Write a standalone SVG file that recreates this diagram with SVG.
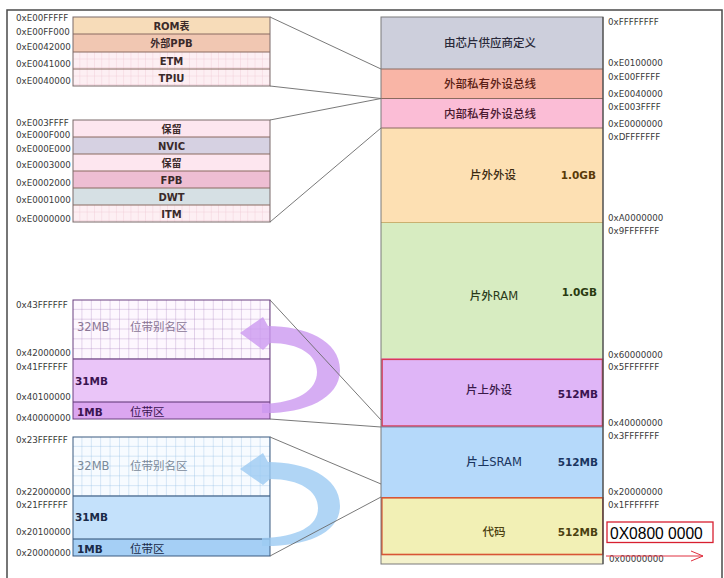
<svg xmlns="http://www.w3.org/2000/svg" width="724" height="578" viewBox="0 0 724 578">
<defs>
<style>
.addr{font-family:"DejaVu Sans","Liberation Sans",sans-serif;font-size:8.7px;fill:#3a3a3a}
.cn{font-family:"DejaVu Sans","Noto Sans CJK SC",sans-serif;font-size:11.5px;font-weight:500;text-anchor:middle}
.sm{font-family:"DejaVu Sans","Noto Sans CJK SC",sans-serif;font-size:10px;font-weight:bold;text-anchor:middle;fill:#3a2a2a}
.sz{font-family:"DejaVu Sans",sans-serif;font-size:10.5px;font-weight:bold;text-anchor:end}
.bb{font-family:"DejaVu Sans","Noto Sans CJK SC",sans-serif;font-size:11.5px}
.bbb{font-family:"DejaVu Sans","Noto Sans CJK SC",sans-serif;font-size:10.5px;font-weight:bold}
.sep{stroke:#8a6a60;stroke-width:1}
.conn{stroke:#6a6a6a;stroke-width:0.9;fill:none}
</style>
<pattern id="pinkgrid" width="7.3" height="8.5" patternUnits="userSpaceOnUse">
<rect width="7.3" height="8.5" fill="#fdeff3"/>
<path d="M7.3 0V8.5M0 8.5H7.3" stroke="#efc6d3" stroke-width="0.8" fill="none"/>
</pattern>
<pattern id="purplegrid" x="73" y="300" width="9.38" height="9.83" patternUnits="userSpaceOnUse">
<rect width="9.38" height="9.83" fill="#fdf7fe"/>
<path d="M9.38 0V9.83M0 9.83H9.38" stroke="#a987c2" stroke-width="0.7" fill="none"/>
</pattern>
<pattern id="bluegrid" x="73" y="437" width="9.38" height="9.83" patternUnits="userSpaceOnUse">
<rect width="9.38" height="9.83" fill="#f7fbff"/>
<path d="M9.38 0V9.83M0 9.83H9.38" stroke="#8fbde3" stroke-width="0.7" fill="none"/>
</pattern>
<marker id="redarrow" markerWidth="14" markerHeight="12" refX="13" refY="6" orient="auto" markerUnits="userSpaceOnUse">
<path d="M1 1L13 6L1 11" fill="none" stroke="#e03040" stroke-width="1"/>
</marker>
</defs>
<rect width="724" height="578" fill="#ffffff"/>
<rect x="7" y="10" width="715" height="590" fill="none" stroke="#4a4a4a" stroke-width="1.5"/>

<!-- Right memory map column -->
<g id="vendor">
<rect x="381" y="17" width="222" height="52" fill="#cdcfdc"/>
<text class="cn" x="490" y="47" fill="#2a2a3a">由芯片供应商定义</text>
</g>
<g id="ext-ppb-bus">
<rect x="381" y="69" width="222" height="29.5" fill="#f9b5a6"/>
<text class="cn" x="490" y="88" fill="#5a1e14">外部私有外设总线</text>
</g>
<g id="int-ppb-bus">
<rect x="381" y="98.5" width="222" height="29.5" fill="#fbbdd6"/>
<text class="cn" x="490" y="118" fill="#4a1a30">内部私有外设总线</text>
</g>
<g id="ext-device">
<rect x="381" y="128" width="222" height="94.5" fill="#fde0b3"/>
<text class="cn" x="493" y="179" fill="#3a2a10">片外外设</text>
<text class="sz" x="596" y="179" fill="#5a3a08">1.0GB</text>
</g>
<g id="ext-ram">
<rect x="381" y="222.5" width="222" height="136" fill="#d7ecc1"/>
<text class="cn" x="494" y="300" fill="#2a3a1a">片外RAM</text>
<text class="sz" x="597" y="296" fill="#2a3a10">1.0GB</text>
</g>
<g id="onchip-device">
<rect x="381" y="358.5" width="222" height="68.5" fill="#dfb5f7"/>
<rect x="382" y="359.3" width="220.5" height="66.8" fill="none" stroke="#d83a55" stroke-width="1.6"/>
<text class="cn" x="489" y="394" fill="#3a1a4a">片上外设</text>
<text class="sz" x="598" y="398" fill="#3a1450">512MB</text>
</g>
<g id="onchip-sram">
<rect x="381" y="427" width="222" height="70" fill="#b5d9fa"/>
<text class="cn" x="494" y="466" fill="#1a3560">片上SRAM</text>
<text class="sz" x="598" y="466" fill="#1a3560">512MB</text>
</g>
<g id="code">
<rect x="381" y="497" width="222" height="67" fill="#f2f0b5"/>
<rect x="381" y="554.5" width="222" height="9.5" fill="#f4f2cc"/>
<rect x="381.8" y="497.8" width="221" height="56.7" fill="none" stroke="#d85535" stroke-width="1.6"/>
<text class="cn" x="494" y="536" fill="#4a4010">代码</text>
<text class="sz" x="598" y="536" fill="#4a4010">512MB</text>
</g>
<g id="column-lines">
<line class="sep" x1="381" y1="69" x2="603" y2="69"/>
<line class="sep" x1="381" y1="98.5" x2="603" y2="98.5"/>
<line class="sep" x1="381" y1="128" x2="603" y2="128"/>
<line x1="381" y1="222.5" x2="603" y2="222.5" stroke="#c9b070" stroke-width="1"/>
<line x1="381" y1="427" x2="603" y2="427" stroke="#7a8aa8" stroke-width="1"/>
<rect x="381" y="17" width="222" height="547" fill="none" stroke="#7a7a7a" stroke-width="1"/>
<line x1="603" y1="17" x2="603" y2="564" stroke="#3a3a3a" stroke-width="1"/>
</g>

<g id="right-addresses">
<text class="addr" x="608" y="25">0xFFFFFFFF</text>
<text class="addr" x="608" y="66">0xE0100000</text>
<text class="addr" x="608" y="80">0xE00FFFFF</text>
<text class="addr" x="608" y="97">0xE0040000</text>
<text class="addr" x="608" y="110">0xE003FFFF</text>
<text class="addr" x="608" y="127">0xE0000000</text>
<text class="addr" x="608" y="140">0xDFFFFFFF</text>
<text class="addr" x="608" y="221">0xA0000000</text>
<text class="addr" x="608" y="234">0x9FFFFFFF</text>
<text class="addr" x="608" y="358">0x60000000</text>
<text class="addr" x="608" y="370">0x5FFFFFFF</text>
<text class="addr" x="608" y="426">0x40000000</text>
<text class="addr" x="608" y="439">0x3FFFFFFF</text>
<text class="addr" x="608" y="495">0x20000000</text>
<text class="addr" x="608" y="508">0x1FFFFFFF</text>
<text class="addr" x="609" y="562">0x00000000</text>
</g>
<g id="flash-start">
<rect x="607" y="522" width="106" height="20.5" fill="#ffffff" stroke="#d82030" stroke-width="1.3"/>
<text x="610" y="538.5" font-family="Liberation Sans,Arial,sans-serif" font-size="15.6" fill="#000000">0X0800 0000</text>
<line x1="606" y1="556" x2="703" y2="556" stroke="#e03040" stroke-width="1" marker-end="url(#redarrow)"/>
</g>

<!-- Top-left: external PPB -->
<g id="ppb-ext">
<rect x="73" y="17" width="197" height="17" fill="#f7dcb9"/>
<rect x="73" y="34" width="197" height="18" fill="#f1c7b2"/>
<rect x="73" y="52" width="197" height="34" fill="url(#pinkgrid)"/>
<line class="sep" x1="73" y1="34" x2="270" y2="34"/>
<line class="sep" x1="73" y1="52" x2="270" y2="52"/>
<line class="sep" x1="73" y1="69" x2="270" y2="69" stroke="#b89098"/>
<rect x="73" y="17" width="197" height="69" fill="none" stroke="#7a6a6a" stroke-width="1"/>
<text class="sm" x="171.5" y="29.5" fill="#4a2a10">ROM表</text>
<text class="sm" x="171.5" y="47" fill="#4a1a10">外部PPB</text>
<text class="sm" x="171.5" y="64.5">ETM</text>
<text class="sm" x="171.5" y="81.5">TPIU</text>
<text class="addr" x="16" y="21">0xE00FFFFF</text>
<text class="addr" x="16" y="35">0xE00FF000</text>
<text class="addr" x="16" y="50">0xE0042000</text>
<text class="addr" x="16" y="67">0xE0041000</text>
<text class="addr" x="16" y="84">0xE0040000</text>
</g>

<!-- Internal PPB -->
<g id="ppb-int">
<rect x="73" y="120" width="197" height="17" fill="#fde6ef"/>
<rect x="73" y="137" width="197" height="17" fill="#d6d1e2"/>
<rect x="73" y="154" width="197" height="17" fill="#fde6ef"/>
<rect x="73" y="171" width="197" height="17" fill="#eebed3"/>
<rect x="73" y="188" width="197" height="17" fill="#d6e0e4"/>
<rect x="73" y="205" width="197" height="17" fill="url(#pinkgrid)"/>
<line class="sep" x1="73" y1="137" x2="270" y2="137"/>
<line class="sep" x1="73" y1="154" x2="270" y2="154"/>
<line class="sep" x1="73" y1="171" x2="270" y2="171"/>
<line class="sep" x1="73" y1="188" x2="270" y2="188"/>
<line class="sep" x1="73" y1="205" x2="270" y2="205"/>
<rect x="73" y="120" width="197" height="102" fill="none" stroke="#7a6a6a" stroke-width="1"/>
<text class="sm" x="171.5" y="132.5">保留</text>
<text class="sm" x="171.5" y="149.5" fill="#2a2a40">NVIC</text>
<text class="sm" x="171.5" y="166.5">保留</text>
<text class="sm" x="171.5" y="183.5" fill="#5a1030">FPB</text>
<text class="sm" x="171.5" y="200.5" fill="#2a3a40">DWT</text>
<text class="sm" x="171.5" y="217.5">ITM</text>
<text class="addr" x="16" y="126">0xE003FFFF</text>
<text class="addr" x="16" y="138">0xE000F000</text>
<text class="addr" x="16" y="152">0xE000E000</text>
<text class="addr" x="16" y="168">0xE0003000</text>
<text class="addr" x="16" y="186">0xE0002000</text>
<text class="addr" x="16" y="203">0xE0001000</text>
<text class="addr" x="16" y="222">0xE0000000</text>
</g>

<!-- Peripheral bit-band -->
<g id="bitband-periph">
<rect x="73" y="300" width="197" height="59" fill="url(#purplegrid)"/>
<rect x="73" y="359" width="197" height="43" fill="#eac5f8"/>
<rect x="73" y="402" width="197" height="17" fill="#dba6f0"/>
<line x1="73" y1="359" x2="270" y2="359" stroke="#5a3070" stroke-width="1"/>
<line x1="73" y1="402" x2="270" y2="402" stroke="#5a3070" stroke-width="1"/>
<rect x="73" y="300" width="197" height="119" fill="none" stroke="#6a4080" stroke-width="1"/>
<text class="bb" x="77" y="331" fill="#8a7595">32MB</text>
<text class="bb" x="130" y="331" fill="#8a7595">位带别名区</text>
<text class="bbb" x="75" y="385" fill="#3a1450">31MB</text>
<text class="bbb" x="77" y="416" fill="#3a1450">1MB</text>
<text class="bb" x="130" y="416" fill="#3a1450">位带区</text>
<text class="addr" x="16" y="308">0x43FFFFFF</text>
<text class="addr" x="16" y="356">0x42000000</text>
<text class="addr" x="16" y="370">0x41FFFFFF</text>
<text class="addr" x="16" y="400">0x40100000</text>
<text class="addr" x="16" y="421">0x40000000</text>
</g>

<!-- SRAM bit-band -->
<g id="bitband-sram">
<rect x="73" y="437" width="197" height="59" fill="url(#bluegrid)"/>
<rect x="73" y="496" width="197" height="43" fill="#c4e1fb"/>
<rect x="73" y="539" width="197" height="17" fill="#a5cff5"/>
<line x1="73" y1="496" x2="270" y2="496" stroke="#2a4a70" stroke-width="1"/>
<line x1="73" y1="539" x2="270" y2="539" stroke="#2a4a70" stroke-width="1"/>
<rect x="73" y="437" width="197" height="119" fill="none" stroke="#3a5a80" stroke-width="1"/>
<text class="bb" x="77" y="470" fill="#7a8a9a">32MB</text>
<text class="bb" x="130" y="470" fill="#7a8a9a">位带别名区</text>
<text class="bbb" x="75" y="521" fill="#1a2a48">31MB</text>
<text class="bbb" x="77" y="553" fill="#1a2a48">1MB</text>
<text class="bb" x="130" y="553" fill="#1a2a48">位带区</text>
<text class="addr" x="16" y="443">0x23FFFFFF</text>
<text class="addr" x="16" y="495">0x22000000</text>
<text class="addr" x="16" y="508">0x21FFFFFF</text>
<text class="addr" x="16" y="535">0x20100000</text>
<text class="addr" x="16" y="556">0x20000000</text>
</g>

<!-- Curved mapping arrows -->
<g id="arc-periph">
<path d="M262 413C302 414 340 400 340 370C340 340 305 326 268 326L263 317L240 333L263 350L270 343C300 343 317 355 317 372C317 390 298 403 262 404Z" fill="#cc99f0" fill-opacity="0.8"/>
</g>
<g id="arc-sram">
<path d="M262 546C302 547 340 535 340 506C340 476 305 462 268 462L263 453L240 469L263 485L270 479C300 479 318 491 318 508C318 526 298 537 262 538Z" fill="#9ccbf3" fill-opacity="0.8"/>
</g>

<g id="connectors">
<line class="conn" x1="270" y1="17" x2="381" y2="69"/>
<line class="conn" x1="270" y1="86" x2="381" y2="98.5"/>
<line class="conn" x1="270" y1="120" x2="381" y2="98.5"/>
<line class="conn" x1="270" y1="222" x2="381" y2="128"/>
<line class="conn" x1="270" y1="300" x2="381" y2="420"/>
<line class="conn" x1="270" y1="419" x2="381" y2="427"/>
<line class="conn" x1="270" y1="437" x2="381" y2="484"/>
<line class="conn" x1="270" y1="556" x2="381" y2="497"/>
</g>
</svg>
